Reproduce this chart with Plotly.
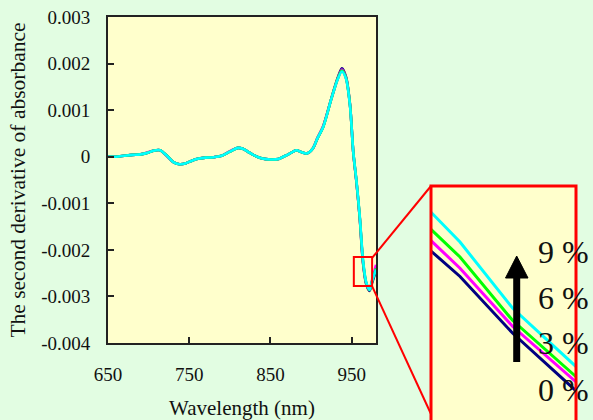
import plotly.graph_objects as go

# ---------------- data ----------------
wavelength = [650, 660, 670, 680, 690, 700, 706, 714, 722, 730, 738, 746, 754, 762, 770,
              780, 790, 800, 810, 816, 822, 830, 840, 850, 860, 866, 872, 882, 888, 895,
              902, 908, 915, 925, 933, 938, 943, 948, 952, 956, 960, 964, 968, 972, 975, 980]

d2_0pct = [0.00000, 0.00000, 0.00002, 0.00004, 0.00005, 0.00009, 0.00013, 0.00014, 0.00003, -0.00011,
           -0.00016, -0.00014, -0.00008, -0.00004, -0.00002, -0.00001, 0.00002, 0.00011, 0.00019, 0.00017,
           0.00011, 0.00003, -0.00004, -0.00006, -0.00005, 0.00000, 0.00005, 0.00014, 0.00010, 0.00007,
           0.00017, 0.00040, 0.00065, 0.00125, 0.00170, 0.00190, 0.00172, 0.00112, 0.00010, -0.00055,
           -0.00132, -0.00228, -0.00274, -0.00288, -0.00272, -0.00245]
d2_3pct = [0.00000, 0.00000, 0.00002, 0.00004, 0.00005, 0.00010, 0.00013, 0.00014, 0.00002, -0.00011,
           -0.00016, -0.00014, -0.00008, -0.00004, -0.00002, -0.00001, 0.00002, 0.00012, 0.00019, 0.00017,
           0.00011, 0.00003, -0.00004, -0.00006, -0.00005, 0.00000, 0.00005, 0.00014, 0.00010, 0.00007,
           0.00017, 0.00041, 0.00066, 0.00124, 0.00168, 0.00187, 0.00170, 0.00111, 0.00009, -0.00056,
           -0.00131, -0.00226, -0.00272, -0.00286, -0.00266, -0.00232]
d2_6pct = [0.00000, 0.00000, 0.00002, 0.00004, 0.00005, 0.00009, 0.00013, 0.00014, 0.00003, -0.00011,
           -0.00016, -0.00014, -0.00008, -0.00004, -0.00002, -0.00001, 0.00002, 0.00011, 0.00019, 0.00017,
           0.00011, 0.00003, -0.00004, -0.00006, -0.00005, 0.00000, 0.00005, 0.00014, 0.00010, 0.00007,
           0.00017, 0.00040, 0.00064, 0.00124, 0.00168, 0.00185, 0.00169, 0.00111, 0.00010, -0.00054,
           -0.00130, -0.00224, -0.00271, -0.00286, -0.00268, -0.00240]
d2_9pct = [0.00000, 0.00000, 0.00002, 0.00004, 0.00005, 0.00009, 0.00013, 0.00014, 0.00003, -0.00011,
           -0.00016, -0.00014, -0.00008, -0.00004, -0.00002, -0.00001, 0.00002, 0.00011, 0.00019, 0.00017,
           0.00011, 0.00003, -0.00004, -0.00006, -0.00005, 0.00000, 0.00005, 0.00014, 0.00010, 0.00007,
           0.00017, 0.00040, 0.00064, 0.00124, 0.00167, 0.00183, 0.00168, 0.00110, 0.00011, -0.00053,
           -0.00128, -0.00222, -0.00270, -0.00286, -0.00268, -0.00242]

# zoomed detail (inset)
inset_wavelength = [955.0, 959.4, 967.4, 977.0]
inset_0pct = [-0.002314, -0.002382, -0.002534, -0.002688]
inset_3pct = [-0.002286, -0.002360, -0.002516, -0.002664]
inset_6pct = [-0.002256, -0.002330, -0.002500, -0.002650]
inset_9pct = [-0.002210, -0.002290, -0.002467, -0.002623]

series_names = ["0 %", "3 %", "6 %", "9 %"]
series_colors = ["#000080", "#FF00FF", "#00FF00", "#00FFFF"]

y_tickvals = [-0.004, -0.003, -0.002, -0.001, 0.0, 0.001, 0.002, 0.003]
y_ticktext = ["-0.004", "-0.003", "-0.002", "-0.001", "0", "0.001", "0.002", "0.003"]
x_tickvals = [650, 750, 850, 950]
x_ticktext = ["650", "750", "850", "950"]

# ---------------- figure ----------------
W, H = 593, 420
FONT = "Liberation Serif, Times New Roman, serif"

def px(x):
    return x / W

def py(y):
    return 1 - y / H

fig = go.Figure()

main_series = [d2_0pct, d2_3pct, d2_6pct, d2_9pct]
inset_series = [inset_0pct, inset_3pct, inset_6pct, inset_9pct]

for name, col, ys in zip(series_names, series_colors, main_series):
    fig.add_trace(go.Scatter(x=wavelength, y=ys, mode="lines", name=name,
                             line=dict(color=col, width=2.6, shape="spline", smoothing=0.8),
                             xaxis="x", yaxis="y", hoverinfo="skip"))

for name, col, ys in zip(series_names, series_colors, inset_series):
    fig.add_trace(go.Scatter(x=inset_wavelength, y=ys, mode="lines", name=name,
                             line=dict(color=col, width=3),
                             xaxis="x2", yaxis="y2", hoverinfo="skip"))

axis_col = "#222222"
fig.update_layout(
    width=W, height=H,
    margin=dict(l=0, r=0, t=0, b=0),
    paper_bgcolor="#E2FDE2",
    plot_bgcolor="#FFFFCC",
    showlegend=False,
    font=dict(family=FONT, color="#111111", size=19),
    xaxis=dict(domain=[px(108), px(376)], range=[650, 980], tickvals=x_tickvals, ticktext=x_ticktext,
               ticks="inside", ticklen=6, tickcolor=axis_col, tickwidth=1.5,
               showline=True, linecolor=axis_col, linewidth=1.8, mirror=True,
               showgrid=False, zeroline=False, ticklabelstandoff=13, automargin=False,
               tickfont=dict(size=19, family=FONT),
               title=dict(text="Wavelength (nm)", font=dict(size=21, family=FONT), standoff=19),
               anchor="y"),
    yaxis=dict(domain=[py(343), py(17)], range=[-0.004, 0.003], tickvals=y_tickvals, ticktext=y_ticktext,
               ticks="inside", ticklen=6, tickcolor=axis_col, tickwidth=1.5,
               showline=True, linecolor=axis_col, linewidth=1.8, mirror=True,
               showgrid=False, zeroline=False, ticklabelstandoff=12, automargin=False,
               tickfont=dict(size=19, family=FONT),
               title=dict(text="The second derivative of absorbance", font=dict(size=21.5, family=FONT), standoff=10),
               anchor="x"),
    xaxis2=dict(domain=[px(431), px(576)], range=[955, 977], visible=False, anchor="y2"),
    yaxis2=dict(domain=[0, py(186)], range=[-0.002766, -0.00214], visible=False, anchor="x2"),
)

shapes = []
# small zoom rectangle on main plot
shapes.append(dict(type="rect", xref="x", yref="y", x0=952.7, x1=975.2, y0=-0.002777, y1=-0.002156,
                   line=dict(color="#FF0000", width=2), fillcolor="rgba(0,0,0,0)"))
# connector lines
shapes.append(dict(type="line", xref="paper", yref="paper", x0=px(372.3), y0=py(257.7), x1=px(431), y1=py(186),
                   line=dict(color="#FF0000", width=2)))
shapes.append(dict(type="line", xref="paper", yref="paper", x0=px(372.3), y0=py(286.7), x1=px(431), y1=py(414),
                   line=dict(color="#FF0000", width=2)))
# inset border
shapes.append(dict(type="rect", xref="paper", yref="paper", x0=px(431), x1=px(576), y0=-0.05, y1=py(186),
                   line=dict(color="#FF0000", width=3), fillcolor="rgba(0,0,0,0)"))
# arrow
shapes.append(dict(type="line", xref="paper", yref="paper", x0=px(516.7), y0=py(362), x1=px(516.7), y1=py(275),
                   line=dict(color="#000000", width=7)))
shapes.append(dict(type="path", xref="paper", yref="paper",
                   path=f"M {px(505.5)},{py(278)} L {px(528)},{py(278)} L {px(516.7)},{py(256)} Z",
                   fillcolor="#000000", line=dict(color="#000000", width=1)))
fig.update_layout(shapes=shapes)

label_y = {"9 %": 251.7, "6 %": 298.3, "3 %": 343, "0 %": 390}
for name in series_names:
    fig.add_annotation(x=px(536), y=py(label_y[name]), xref="paper", yref="paper",
                       text=name, showarrow=False, xanchor="left", yanchor="middle",
                       font=dict(family=FONT, size=32, color="#111111"))

fig.write_html("out.html", config={"displayModeBar": False},
               post_script="document.body.style.margin='0';document.body.style.overflow='hidden';")
